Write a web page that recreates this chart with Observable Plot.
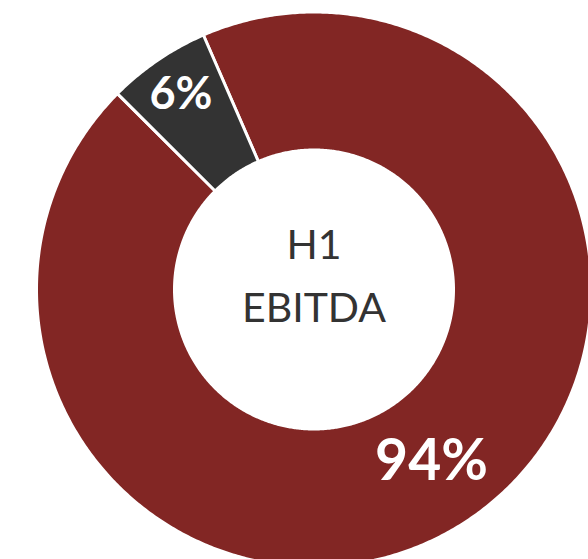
<!DOCTYPE html>
<html>
<head>
<meta charset="utf-8">
<script src="https://cdn.jsdelivr.net/npm/d3@7"></script>
<script src="https://cdn.jsdelivr.net/npm/@observablehq/plot@0.6"></script>
<style>
  html, body { margin: 0; padding: 0; background: #fff; }
  #chart svg { display: block; overflow: hidden; }
</style>
</head>
<body>
<div id="chart"></div>
<script>
// ---- data ----
const segments = ["Main business", "Other"];
const shares = [94, 6];
const labels = ["94%", "6%"];
const colors = ["#822624", "#333333"];
const centerTitle = ["H1", "EBITDA"];

// ---- layout ----
const W = 588, H = 559;
const cx = 313.5, cy = 289;       // donut centre in pixels
const rOuter = 277.5, rInner = 139.5;
const rotation = -23.5 * Math.PI / 180;

const pie = d3.pie().sort(null).value(d => d.value)
  .startAngle(rotation).endAngle(rotation + 2 * Math.PI);
const arcs = pie(segments.map((s, i) => ({key: s, value: shares[i], label: labels[i]})));

// polygon points for each slice (angle measured clockwise from north)
const pts = [];
for (const a of arcs) {
  const n = Math.max(4, Math.ceil((a.endAngle - a.startAngle) * 120));
  for (let k = 0; k <= n; k++) {
    const t = a.startAngle + (a.endAngle - a.startAngle) * k / n;
    pts.push({key: a.data.key, x: rOuter * Math.sin(t), y: rOuter * Math.cos(t)});
  }
  for (let k = n; k >= 0; k--) {
    const t = a.startAngle + (a.endAngle - a.startAngle) * k / n;
    pts.push({key: a.data.key, x: rInner * Math.sin(t), y: rInner * Math.cos(t)});
  }
}

const labelPts = arcs.map(a => {
  const mid = (a.startAngle + a.endAngle) / 2;
  const small = a.data.value < 10;
  const r = small ? 236 : (rOuter + rInner) / 2;
  return {label: a.data.label, x: r * Math.sin(mid), y: r * Math.cos(mid), small};
});

const chart = Plot.plot({
  width: W, height: H,
  margin: 0,
  x: {domain: [-cx, W - cx], axis: null},
  y: {domain: [cy - H, cy], axis: null},
  color: {domain: segments, range: colors},
  style: {background: "#fff"},
  marks: [
    Plot.line(pts, {x: "x", y: "y", z: "key", fill: "key", stroke: "white", strokeWidth: 3, curve: "linear-closed"}),
    Plot.text(labelPts.filter(d => !d.small), {x: "x", y: "y", text: "label", fill: "white",
      fontSize: 57, fontWeight: "bold", fontFamily: "Lato"}),
    Plot.text(labelPts.filter(d => d.small), {x: "x", y: "y", text: "label", fill: "white",
      fontSize: 45, fontWeight: "bold", fontFamily: "Lato"}),
    Plot.text([centerTitle.join("\n")], {x: [0], y: [19], text: d => d, fill: "#333333",
      fontSize: 41, fontFamily: "Lato", lineHeight: 1.54})
  ]
});
document.getElementById("chart").appendChild(chart);
</script>
</body>
</html>
